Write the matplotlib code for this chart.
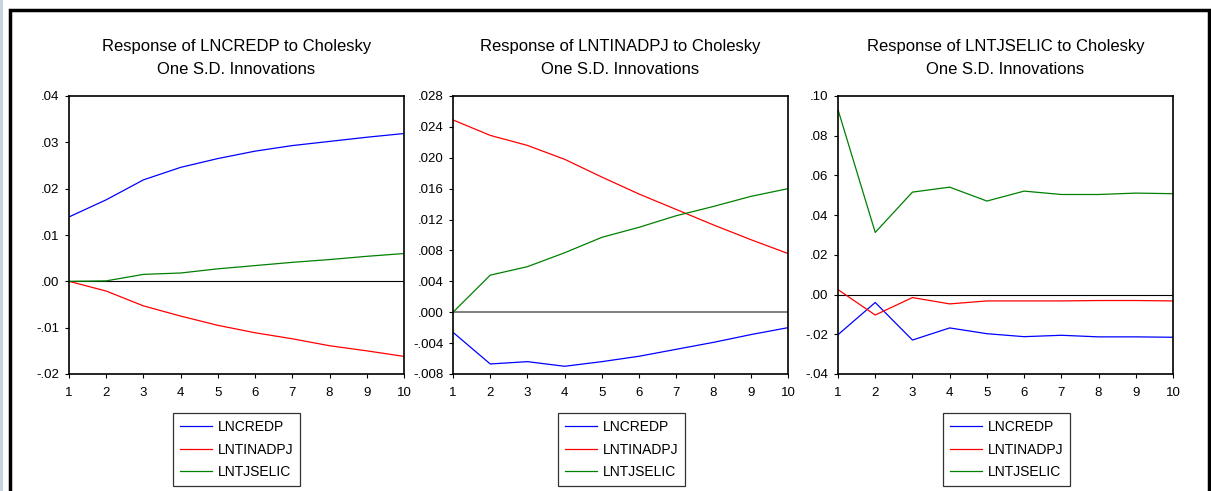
import matplotlib
matplotlib.use("Agg")
import matplotlib.pyplot as plt
from matplotlib.patches import Rectangle
from matplotlib.ticker import FuncFormatter

# %% data
periods = [1, 2, 3, 4, 5, 6, 7, 8, 9, 10]
series_names = ["LNCREDP", "LNTINADPJ", "LNTJSELIC"]
titles = ["Response of LNCREDP to Cholesky\nOne S.D. Innovations",
          "Response of LNTINADPJ to Cholesky\nOne S.D. Innovations",
          "Response of LNTJSELIC to Cholesky\nOne S.D. Innovations"]

# response of LNCREDP
credp_credp = [0.0139, 0.0176, 0.0219, 0.0246, 0.0265, 0.0281, 0.0293, 0.0302, 0.0311, 0.0319]
credp_tinadpj = [0.0, -0.0021, -0.0053, -0.0075, -0.0095, -0.0111, -0.0124, -0.0139, -0.0150, -0.0162]
credp_tjselic = [0.0, 0.0001, 0.0015, 0.0018, 0.0027, 0.0034, 0.0041, 0.0047, 0.0054, 0.0060]

# response of LNTINADPJ
tinadpj_credp = [-0.0026, -0.0067, -0.0064, -0.0070, -0.0064, -0.0057, -0.0048, -0.0039, -0.0029, -0.0020]
tinadpj_tinadpj = [0.0249, 0.0229, 0.0216, 0.0198, 0.0175, 0.0153, 0.0133, 0.0113, 0.0094, 0.0076]
tinadpj_tjselic = [0.0, 0.0048, 0.0059, 0.0077, 0.0097, 0.0110, 0.0125, 0.0137, 0.0150, 0.0160]

# response of LNTJSELIC
tjselic_credp = [-0.0202, -0.0040, -0.0229, -0.0168, -0.0197, -0.0212, -0.0205, -0.0213, -0.0213, -0.0215]
tjselic_tinadpj = [0.0025, -0.0103, -0.0015, -0.0047, -0.0032, -0.0032, -0.0032, -0.0030, -0.0030, -0.0032]
tjselic_tjselic = [0.0931, 0.0313, 0.0516, 0.0541, 0.0471, 0.0521, 0.0504, 0.0504, 0.0511, 0.0508]

responses = [
    [credp_credp, credp_tinadpj, credp_tjselic],
    [tinadpj_credp, tinadpj_tinadpj, tinadpj_tjselic],
    [tjselic_credp, tjselic_tinadpj, tjselic_tjselic],
]
ylims = [(-0.02, 0.04), (-0.008, 0.028), (-0.04, 0.10)]
ysteps = [0.01, 0.004, 0.02]
ydecimals = [2, 3, 2]

colors = ["#0000ff", "#ff0000", "#008000"]
zero_colors = ["black", "#808080", "black"]
zero_widths = [0.8, 1.4, 0.8]

plt.rcParams['font.family'] = ['Liberation Sans', 'DejaVu Sans']

W, H = 1211, 491
fig = plt.figure(figsize=(W / 100, H / 100), dpi=100)

# background strip + outer frame
fig.patches.append(Rectangle((0, 0), 3 / W, 1, transform=fig.transFigure,
                             facecolor="#c5d3e3", edgecolor="none"))
fig.patches.append(Rectangle((10 / W, -0.01), (1209 - 10) / W, (H - 10) / H + 0.01,
                             transform=fig.transFigure, facecolor="none",
                             edgecolor="black", linewidth=2.5))

ax_lefts = [69, 453, 838]
ax_width = 335
ax_top, ax_bottom = 96, 374
leg_lefts = [173, 558, 943]


def fmt_factory(dec):
    def f(v, pos):
        s = f"{v:.{dec}f}"
        return s.replace("0.", ".", 1)
    return FuncFormatter(f)


for i in range(3):
    ax = fig.add_axes([ax_lefts[i] / W, (H - ax_bottom) / H,
                       ax_width / W, (ax_bottom - ax_top) / H])
    lines = []
    for j in range(3):
        ln, = ax.plot(periods, responses[i][j], color=colors[j], lw=0.9)
        lines.append(ln)
    ax.axhline(0, color=zero_colors[i], lw=zero_widths[i], zorder=0)

    lo, hi = ylims[i]
    n = round((hi - lo) / ysteps[i])
    ax.set_yticks([lo + k * ysteps[i] for k in range(n + 1)])
    ax.yaxis.set_major_formatter(fmt_factory(ydecimals[i]))
    ax.set_ylim(lo, hi)
    ax.set_xlim(1, 10)
    ax.set_xticks(periods)
    ax.tick_params(direction="out", length=3, width=0.8, labelsize=9.5)
    ax.tick_params(axis="y", pad=4)
    ax.tick_params(axis="x", pad=6)
    for sp in ax.spines.values():
        sp.set_linewidth(1.2)

    cx = (ax_lefts[i] + ax_width / 2) / W
    fig.text(cx, 1 - 46 / H, titles[i].split("\n")[0], ha="center", va="center",
             fontsize=12)
    fig.text(cx, 1 - 69 / H, titles[i].split("\n")[1], ha="center", va="center",
             fontsize=12)

    leg = fig.legend(lines, series_names, loc="upper left",
                     bbox_to_anchor=(leg_lefts[i] / W, 1 - 413 / H),
                     frameon=True, fancybox=False, fontsize=10,
                     handlelength=2.3, handletextpad=0.4, labelspacing=0.62,
                     borderpad=0.5, borderaxespad=0)
    leg.get_frame().set_edgecolor("black")
    leg.get_frame().set_linewidth(0.9)

fig.savefig("out.png", dpi=100)
